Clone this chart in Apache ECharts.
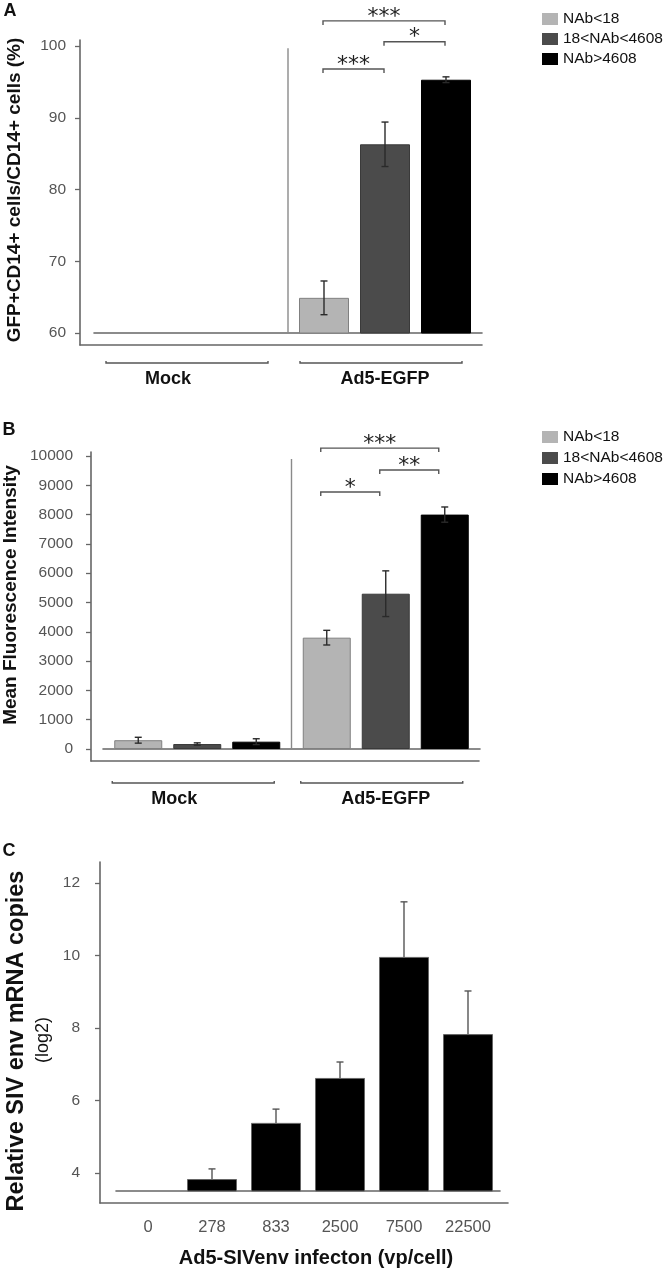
<!DOCTYPE html>
<html><head><meta charset="utf-8">
<script src="https://cdn.jsdelivr.net/npm/echarts@6/dist/echarts.min.js"></script>
<style>html,body{margin:0;padding:0;background:#fff}#c{width:666px;height:1271px}</style>
</head><body><div id="c"></div>
<script>
// ---------- data ----------
const groupCats = ['Mock', 'Ad5-EGFP'];
const seriesNames = ['NAb<18', '18<NAb<4608', 'NAb>4608'];
// panel A: GFP+CD14+ cells / CD14+ cells (%)
const gfpMeans = [[null, 64.9], [null, 86.3], [null, 95.3]];
const gfpErrs  = [[null, 2.35], [null, 3.1], [null, 0.4]];
const gfpTicks = [60, 70, 80, 90, 100];
const gfpSig = [[1, 0, 2, 103.5, '***'], [1, 1, 2, 100.6, '*'], [1, 0, 1, 96.8, '***']];
// panel B: Mean Fluorescence Intensity
const mfiMeans = [[300, 3800], [170, 5300], [250, 8000]];
const mfiErrs  = [[100, 250], [40, 780], [100, 260]];
const mfiTicks = [0, 1000, 2000, 3000, 4000, 5000, 6000, 7000, 8000, 9000, 10000];
const mfiSig = [[1, 0, 2, 10270, '***'], [1, 1, 2, 9520, '**'], [1, 0, 1, 8770, '*']];
// panel C: Relative SIV env mRNA copies (log2)
const doseCats = ['0', '278', '833', '2500', '7500', '22500'];
const sivMeans = [null, 3.83, 5.38, 6.62, 9.96, 7.83];
const sivErrs  = [null, 0.28, 0.38, 0.44, 1.52, 1.19];
const sivTicks = [4, 6, 8, 10, 12];

// ---------- style ----------
const FONT = '"Liberation Sans", Arial, Helvetica, sans-serif';
const AX = '#666';
const barColors = ['#b4b4b4', '#4b4b4b', '#000000'];
const barBorders = ['#808080', '#3a3a3a', '#000000'];

function frameX(g) {
  return {gridIndex: g, type: 'value', min: 0, max: 1,
    axisLine: {show: true, onZero: false, lineStyle: {color: AX, width: 1.6}},
    axisTick: {show: false}, axisLabel: {show: false}, splitLine: {show: false}};
}
function frameY(g, min, max, ticks, margin) {
  return {gridIndex: g, type: 'value', min: min, max: max,
    axisLine: {show: true, lineStyle: {color: AX, width: 1.6}},
    axisTick: {show: true, length: 5, customValues: ticks, lineStyle: {color: AX, width: 1.3}},
    axisLabel: {customValues: ticks, margin: margin, color: '#555', fontSize: 15.5, fontFamily: FONT,
      formatter: v => String(v)},
    splitLine: {show: false}};
}
function dataY(g, min, max) {
  return {gridIndex: g, type: 'value', min: min, max: max, show: false,
    axisLine: {show: false}, splitLine: {show: false}};
}
function groupX(g, margin) {
  return {gridIndex: g, type: 'category',
    data: [{value: groupCats[0], textStyle: {padding: [0, 46, 0, 0]}}, groupCats[1]],
    axisLine: {show: true, onZero: false, lineStyle: {color: AX, width: 1.6}},
    axisTick: {show: false},
    axisLabel: {margin: margin, fontSize: 18, fontWeight: 'bold', color: '#111', fontFamily: FONT,
      interval: 0}};
}

function errRender(off, upOnly, color) {
  return function (params, api) {
    const i = api.value(0), m = api.value(1), e = api.value(2);
    const t = api.coord([i, m + e]);
    const b = api.coord([i, upOnly ? m : m - e]);
    const x = t[0] + off;
    const st = {stroke: color, lineWidth: 1.4};
    const kids = [
      {type: 'line', shape: {x1: x, y1: t[1], x2: x, y2: b[1]}, style: st},
      {type: 'line', shape: {x1: x - 3.5, y1: t[1], x2: x + 3.5, y2: t[1]}, style: st}
    ];
    if (!upOnly) kids.push({type: 'line', shape: {x1: x - 3.5, y1: b[1], x2: x + 3.5, y2: b[1]}, style: st});
    return {type: 'group', children: kids};
  };
}

function panelSeries(xi, means, errs, bw, gap) {
  const out = [];
  for (let j = 0; j < 3; j++) {
    out.push({name: seriesNames[j], type: 'bar', xAxisIndex: xi, yAxisIndex: xi,
      data: means[j], barWidth: bw, barGap: (gap / bw * 100) + '%',
      itemStyle: {color: barColors[j], borderColor: barBorders[j], borderWidth: 1},
      silent: true});
  }
  for (let j = 0; j < 3; j++) {
    const d = [];
    means[j].forEach((m, i) => { if (m != null) d.push([i, m, errs[j][i]]); });
    out.push({type: 'custom', xAxisIndex: xi, yAxisIndex: xi, data: d, z: 10, clip: false,
      encode: {x: 0, y: 1}, silent: true,
      renderItem: errRender((j - 1) * (bw + gap), false, '#2a2a2a')});
  }
  return out;
}

function sigSeries(xi, sig, bw, gap, shift) {
  return {type: 'custom', xAxisIndex: xi, yAxisIndex: xi, data: sig.map(s => [s[0], s[1], s[2], s[3]]),
    encode: {x: 0, y: 3}, z: 10, clip: false, silent: true,
    renderItem: function (params, api) {
      const s = sig[params.dataIndex];
      const p = api.coord([s[0], s[3]]);
      const x1 = p[0] + (s[1] - 1) * (bw + gap) + shift;
      const x2 = p[0] + (s[2] - 1) * (bw + gap) + shift;
      const y = p[1];
      return {type: 'group', children: [
        {type: 'polyline', shape: {points: [[x1, y + 4], [x1, y], [x2, y], [x2, y + 4]]},
          style: {stroke: '#555', lineWidth: 1.4, fill: null}},
        {type: 'text', x: (x1 + x2) / 2, y: y - 4,
          style: {text: s[4], font: '22px "DejaVu Sans", sans-serif', fill: '#222',
            align: 'center', verticalAlign: 'middle'}}
      ]};
    }};
}

function groupLineSeries(xi, baseVal, drop, half, shift) {
  return {type: 'custom', xAxisIndex: xi, yAxisIndex: xi, data: groupCats.map((c, i) => [i, baseVal]),
    encode: {x: 0, y: 1}, clip: false, silent: true,
    renderItem: function (params, api) {
      const p = api.coord([api.value(0), baseVal]);
      const cx = p[0] + shift, y = p[1] + drop;
      return {type: 'polyline', shape: {points: [[cx - half, y - 2], [cx - half, y], [cx + half, y], [cx + half, y - 2]]},
        style: {stroke: '#555', lineWidth: 1.4, fill: null}};
    }};
}

function separatorSeries(xi, topVal, baseVal) {
  return {type: 'custom', xAxisIndex: xi, yAxisIndex: xi, data: [[1, topVal]],
    encode: {x: 0, y: 1}, clip: false, silent: true,
    renderItem: function (params, api) {
      const t = api.coord([1, topVal]), b = api.coord([1, baseVal]);
      const x = t[0] - api.size([1, 0])[0] / 2;
      return {type: 'line', shape: {x1: x, y1: t[1], x2: x, y2: b[1]},
        style: {stroke: '#8a8a8a', lineWidth: 1.4}};
    }};
}

const series = [].concat(
  panelSeries(1, gfpMeans, gfpErrs, 50, 11),
  [sigSeries(1, gfpSig, 50, 11, -1), groupLineSeries(1, 60, 30, 81, -4), separatorSeries(1, 99.7, 60)],
  panelSeries(3, mfiMeans, mfiErrs, 48, 11),
  [sigSeries(3, mfiSig, 48, 11, -6), groupLineSeries(3, 0, 34, 81, -4), separatorSeries(3, 9900, 0)],
  [{type: 'bar', xAxisIndex: 5, yAxisIndex: 5, data: sivMeans, barWidth: 50, silent: true,
    itemStyle: {color: '#000', borderColor: '#666', borderWidth: 1}},
   {type: 'custom', xAxisIndex: 5, yAxisIndex: 5, z: 10, clip: false, silent: true, encode: {x: 0, y: 1},
    data: sivMeans.map((m, i) => [i, m, sivErrs[i]]).filter(d => d[1] != null),
    renderItem: errRender(0, true, '#555')}]
);

function label(text, x, y, font, rot) {
  return {type: 'text', x: x, y: y, rotation: rot || 0,
    style: {text: text, font: font, fill: '#111', align: 'center', verticalAlign: 'middle'}};
}

const option = {
  animation: false,
  backgroundColor: '#fff',
  grid: [
    {left: 80, top: 40, width: 402, height: 305},
    {left: 94, top: 46, width: 388, height: 287},
    {left: 91, top: 452, width: 388, height: 309},
    {left: 103, top: 456, width: 377, height: 293},
    {left: 100, top: 862, width: 408, height: 341},
    {left: 116, top: 883, width: 384, height: 308}
  ],
  xAxis: [
    frameX(0), groupX(1, 37),
    frameX(2), groupX(3, 41),
    frameX(4),
    {gridIndex: 5, type: 'category', data: doseCats,
      axisLine: {show: true, onZero: false, lineStyle: {color: AX, width: 1.6}},
      axisTick: {show: false},
      axisLabel: {margin: 28, fontSize: 16.5, color: '#555', fontFamily: FONT, interval: 0}}
  ],
  yAxis: [
    frameY(0, 58.33, 100.84, gfpTicks, 14), dataY(1, 60, 100),
    frameY(2, -410, 10137, mfiTicks, 18), dataY(3, 0, 10000),
    frameY(4, 3.172, 12.58, sivTicks, 20), dataY(5, 3.5, 12)
  ],
  legend: [
    {data: seriesNames, orient: 'vertical', left: 537, top: 6, icon: 'rect', itemWidth: 16, itemHeight: 12,
      itemGap: 4, itemStyle: {borderWidth: 0}, selectedMode: false,
      textStyle: {fontSize: 15.5, fontFamily: FONT, color: '#111', lineHeight: 15}},
    {data: seriesNames, orient: 'vertical', left: 537, top: 424, icon: 'rect', itemWidth: 16, itemHeight: 12,
      itemGap: 5, itemStyle: {borderWidth: 0}, selectedMode: false,
      textStyle: {fontSize: 15.5, fontFamily: FONT, color: '#111', lineHeight: 15}}
  ],
  graphic: [
    label('A', 10, 11, 'bold 18px ' + FONT),
    label('B', 9, 430, 'bold 18px ' + FONT),
    label('C', 9, 851, 'bold 18px ' + FONT),
    label('GFP+CD14+ cells/CD14+ cells (%)', 15, 190, 'bold 19px ' + FONT, Math.PI / 2),
    label('Mean Fluorescence Intensity', 11, 595, 'bold 19px ' + FONT, Math.PI / 2),
    label('Relative SIV env mRNA copies', 17, 1041, 'bold 23.5px ' + FONT, Math.PI / 2),
    label('(log2)', 43, 1040, '18px ' + FONT, Math.PI / 2),
    label('Ad5-SIVenv infecton (vp/cell)', 316, 1258, 'bold 20px ' + FONT)
  ],
  series: series
};
const chart = echarts.init(document.getElementById('c'));
chart.setOption(option);
</script>
</body></html>
